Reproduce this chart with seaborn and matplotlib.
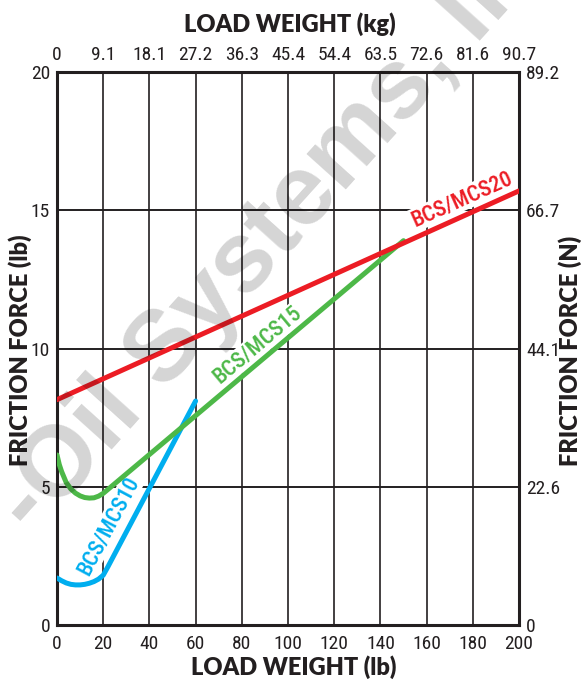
import pandas as pd
import matplotlib
matplotlib.use("Agg")
import matplotlib.pyplot as plt
import seaborn as sns
from matplotlib import font_manager

# Valeurs
load_ticks = [0, 20, 40, 60, 80, 100, 120, 140, 160, 180, 200]
load_kg_labels = ["0", "9.1", "18.1", "27.2", "36.3", "45.4", "54.4", "63.5", "72.6", "81.6", "90.7"]
force_ticks = [0, 5, 10, 15, 20]
force_n_labels = ["0", "22.6", "44.1", "66.7", "89.2"]

series_names = ["BCS/MCS10", "BCS/MCS15", "BCS/MCS20"]
series_colors = ["#00aeef", "#4db848", "#ec1c24"]

mcs10_load = [0, 2, 4, 6, 8, 10, 12, 14, 16, 18, 20, 22, 60]
mcs10_force = [1.70, 1.60, 1.52, 1.47, 1.45, 1.45, 1.47, 1.51, 1.57, 1.66, 1.80, 2.10, 8.10]

mcs15_load = [0, 1, 2, 4, 6, 8, 10, 12, 14, 16, 18, 20, 22, 150]
mcs15_force = [6.15, 5.80, 5.55, 5.15, 4.92, 4.77, 4.67, 4.61, 4.59, 4.60, 4.66, 4.76, 4.90, 13.90]

mcs20_load = [0, 200]
mcs20_force = [8.15, 15.70]

# polices
names = {f.name for f in font_manager.fontManager.ttflist}
narrow = next((n for n in ["Liberation Sans Narrow", "Roboto Condensed", "Archivo Narrow",
                           "Barlow Condensed", "DejaVu Sans"] if n in names))
heavy = "Lato" if "Lato" in names else "DejaVu Sans"

df = pd.concat([
    pd.DataFrame({"load": mcs10_load, "force": mcs10_force, "model": "BCS/MCS10"}),
    pd.DataFrame({"load": mcs15_load, "force": mcs15_force, "model": "BCS/MCS15"}),
    pd.DataFrame({"load": mcs20_load, "force": mcs20_force, "model": "BCS/MCS20"}),
])

sns.set_style("white")
ink = "#231f20"

fig = plt.figure(figsize=(5.82, 6.83), dpi=100)
ax = fig.add_axes([57 / 582, 58 / 683, 462 / 582, 553 / 683])

# grille
for x in load_ticks[1:-1]:
    ax.axvline(x, color=ink, lw=1.2, zorder=1)
for y in force_ticks[1:-1]:
    ax.axhline(y, color=ink, lw=1.4, zorder=1)

sns.lineplot(data=df, x="load", y="force", hue="model", hue_order=series_names,
             palette=series_colors, sort=False, estimator=None, lw=3.6,
             legend=False, ax=ax, zorder=4)

ax.set_xlim(0, 200)
ax.set_ylim(0, 20)
ax.set_xticks(load_ticks)
ax.set_yticks(force_ticks)
ax.set_xlabel("")
ax.set_ylabel("")
ax.tick_params(length=0)
ax.tick_params(axis="x", pad=7)
ax.tick_params(axis="y", pad=5)
for sp in ax.spines.values():
    sp.set_linewidth(2.2)
    sp.set_color(ink)

ax_r = ax.twinx()
ax_r.set_ylim(0, 20)
ax_r.set_yticks(force_ticks, force_n_labels)
ax_r.tick_params(length=0, pad=5)
ax_t = ax.twiny()
ax_t.set_xlim(0, 200)
ax_t.set_xticks(load_ticks, load_kg_labels)
ax_t.tick_params(length=0, pad=6)
for a in (ax, ax_r, ax_t):
    for lab in a.get_xticklabels() + a.get_yticklabels():
        lab.set_family(narrow)
        lab.set_fontsize(14)
        lab.set_color(ink)
for a in (ax_r, ax_t):
    for sp in a.spines.values():
        sp.set_visible(False)

# étiquettes des courbes
label_pos = [(22.5, 3.6, 62), (87, 10.13, 40), (175.3, 15.4, 24)]
for name, col, (lx, ly, rot) in zip(series_names, series_colors, label_pos):
    ax.text(lx, ly, name, color=col, family=narrow, fontsize=16, weight="medium",
            rotation=rot, ha="center", va="center", rotation_mode="anchor", zorder=3,
            bbox=dict(facecolor="white", edgecolor="none", pad=0.5))

# titres d'axes
tkw = dict(fontsize=17, family=heavy, weight="heavy", color=ink, ha="center", va="center")
fig.text(290 / 582, 1 - 24 / 683, "LOAD WEIGHT (kg)", **tkw)
fig.text(294 / 582, 1 - 667 / 683, "LOAD WEIGHT (lb)", **tkw)
fig.text(20 / 582, 1 - 350 / 683, "FRICTION FORCE (lb)", rotation=90, **tkw)
fig.text(570 / 582, 1 - 351 / 683, "FRICTION FORCE (N)", rotation=90, **tkw)

# filigrane
fig.text(14 / 582, 1 - 520 / 683, "-Oil Systems, Inc.", fontsize=72, family="Liberation Sans",
         weight="bold", color="black", alpha=0.17, rotation=48, rotation_mode="anchor",
         ha="left", va="center", zorder=10)

fig.savefig("out.png", dpi=100)
